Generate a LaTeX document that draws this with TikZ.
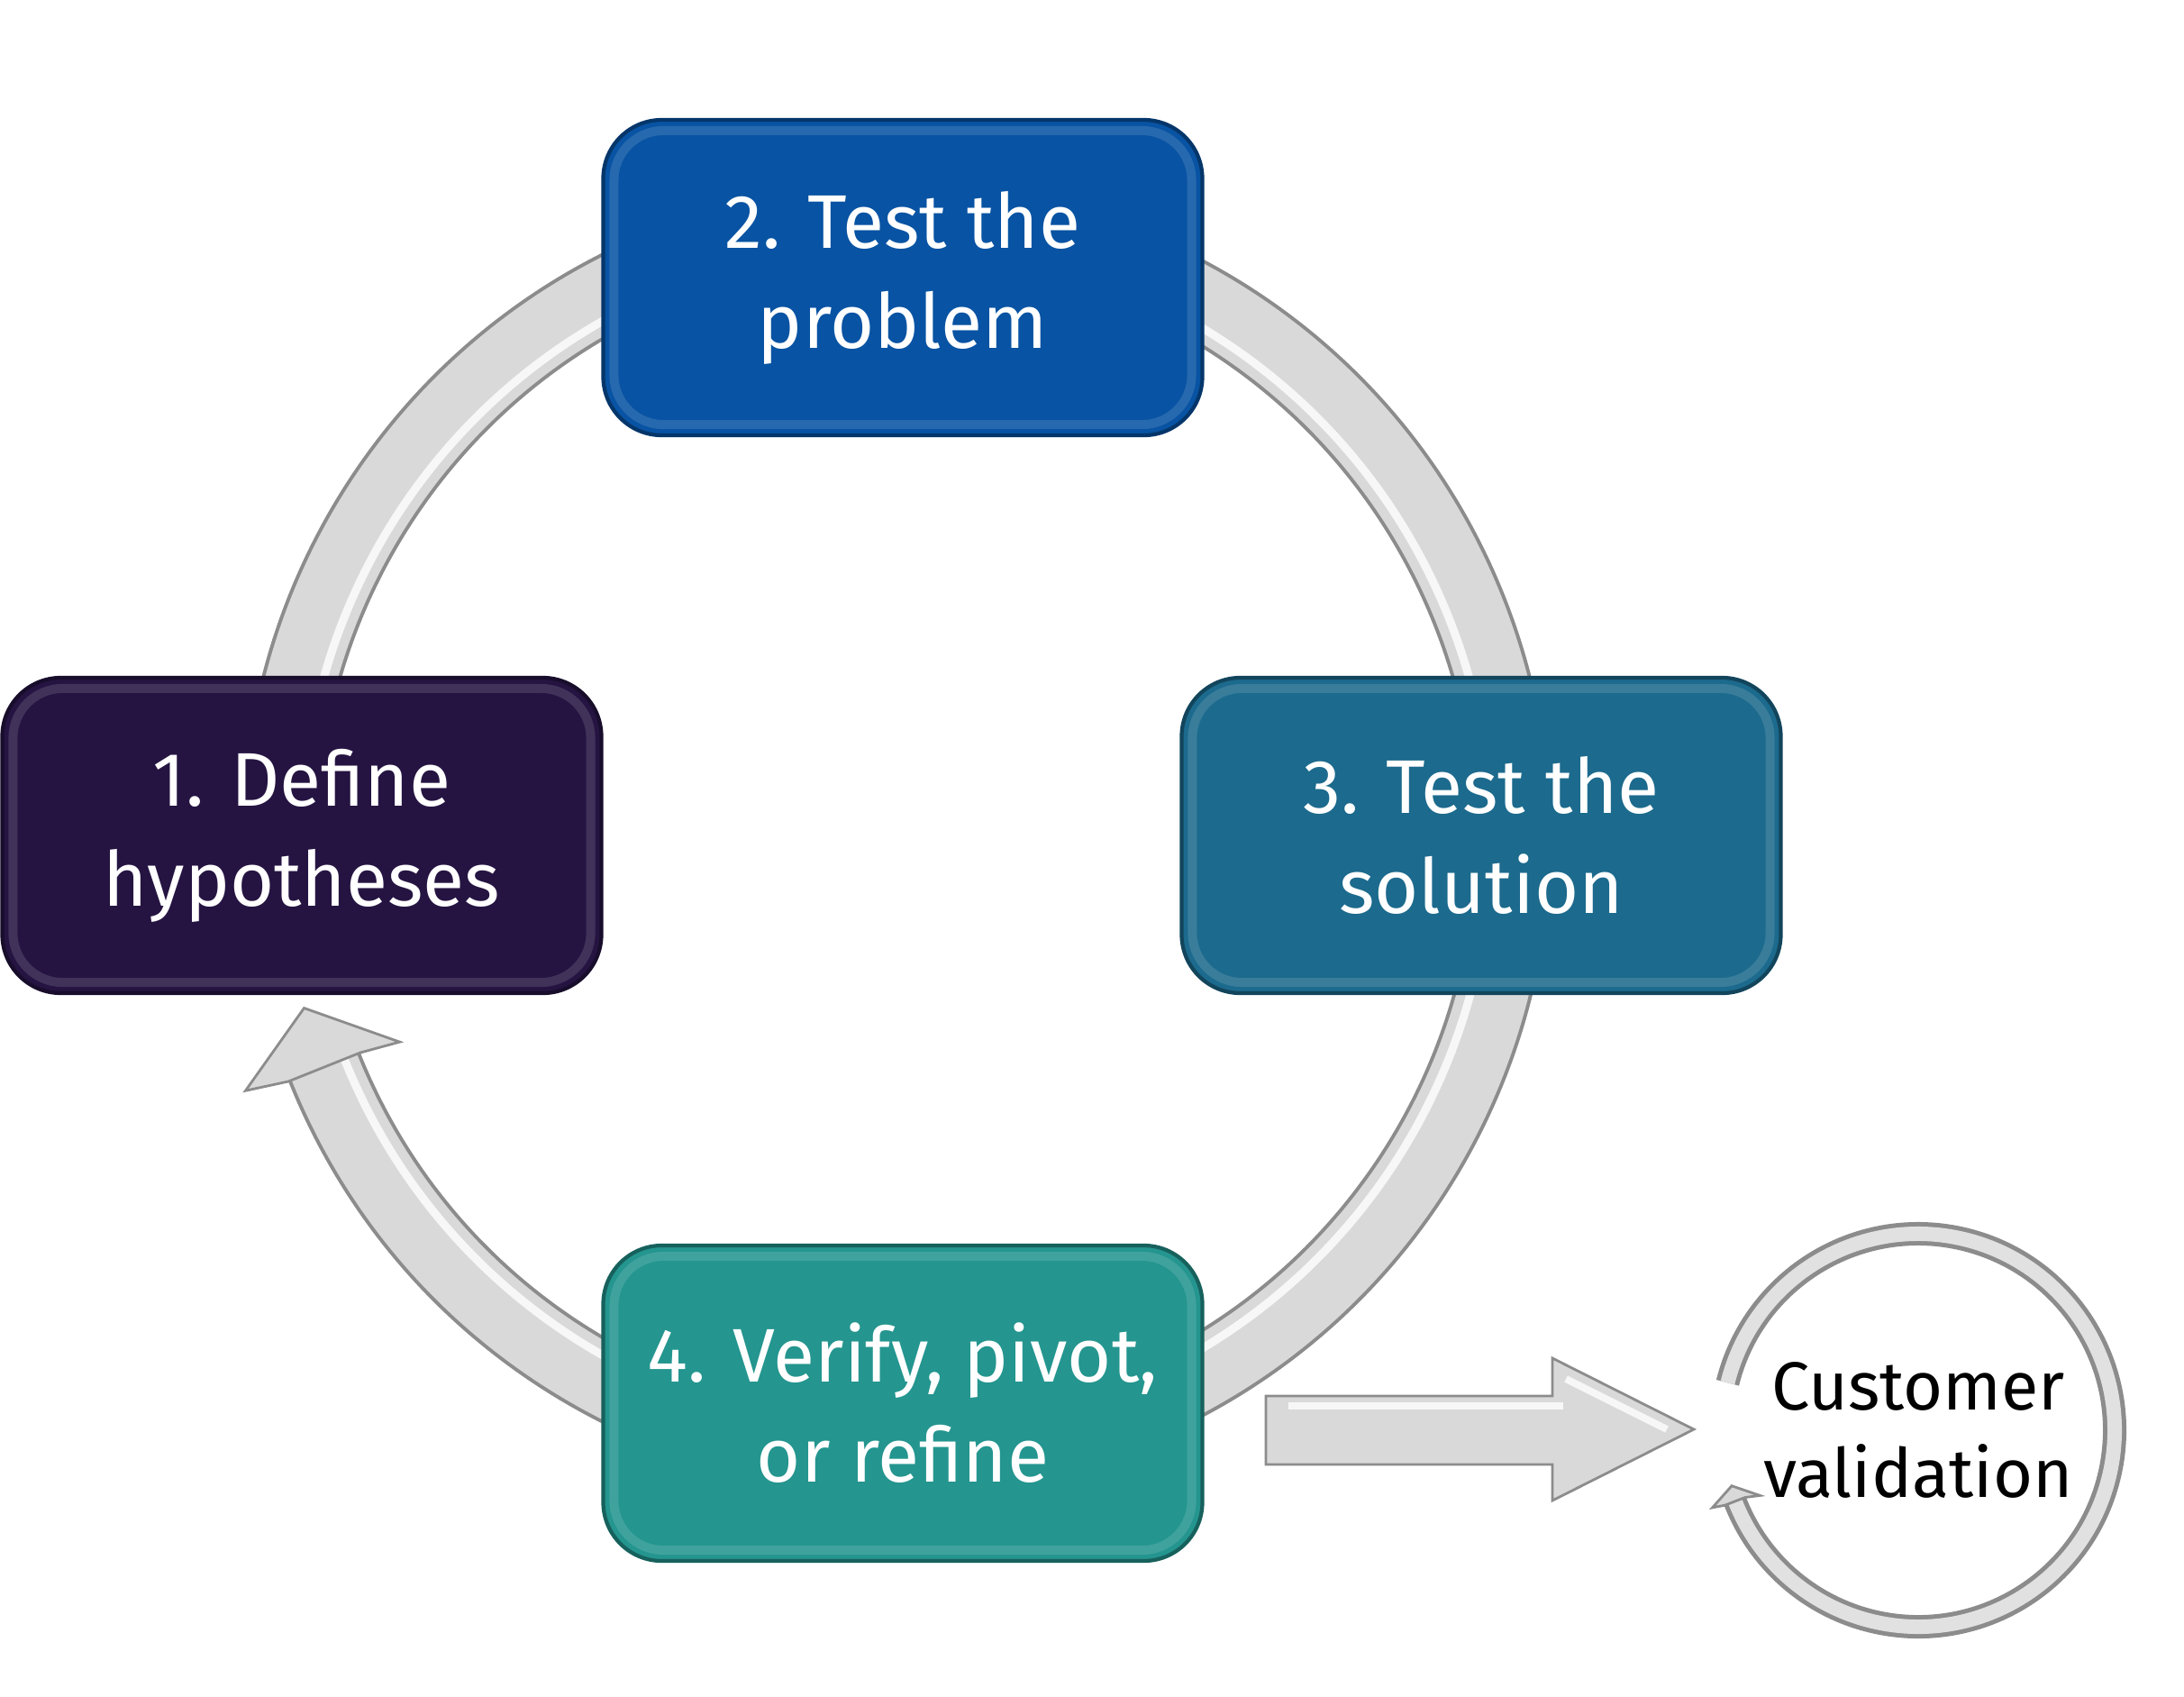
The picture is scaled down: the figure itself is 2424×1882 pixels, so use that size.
\documentclass[tikz,border=0pt]{standalone}
\usepackage{fontspec}
\setmainfont{Fira Sans}
\usetikzlibrary{calc}
\definecolor{cA}{HTML}{251442}
\definecolor{cB}{HTML}{0853A3}
\definecolor{cC}{HTML}{1C6A8D}
\definecolor{cD}{HTML}{24958F}
\definecolor{ringgray}{HTML}{D9D9D9}
\definecolor{edgegray}{HTML}{8C8C8C}
\begin{document}
\begin{tikzpicture}[x=0.1mm,y=0.1mm,
  stepbox/.style={draw=#1!65!black, line width=1.2pt, fill=#1, rounded corners=6.5mm,
    minimum width=66.5mm, minimum height=35mm, align=center, text=white,
    font=\fontsize{24}{31.6}\selectfont, inner sep=0pt},
  rim/.style={white, opacity=0.13, line width=1.0mm, rounded corners=5.5mm},
  ringbody/.style={line width=7.8mm, ringgray},
  ringedge/.style={line width=8.6mm, edgegray},
  headfill/.style={fill=ringgray, draw=edgegray, line width=0.8pt, line join=miter}
]
\useasboundingbox (0,0) rectangle (2424,-1882);
\coordinate (C) at (995,-930);
\coordinate (V) at (2129,-1587);

% big ring
\draw[ringedge] ($(C)+(201.8:684)$) arc[start angle=201.8, end angle=545, radius=684];
\draw[ringbody] ($(C)+(201.8:684)$) arc[start angle=201.8, end angle=545, radius=684];
\draw[white, line width=0.9mm, opacity=0.8] ($(C)+(201.8:660)$) arc[start angle=201.8, end angle=545, radius=660];
% ring arrow head
\path[headfill] ($(C)+(201.2:775)$) -- ($(C)+(196:684)$) -- ($(C)+(202.3:596)$)
  -- ($(C)+(201.8:641)$) -- ($(C)+(201.8:727)$) -- cycle;

% boxes
\node[stepbox=cA] (b1) at (335,-927) {1. Define\\hypotheses};
\node[stepbox=cB] (b2) at (1002,-308) {2. Test the\\problem};
\node[stepbox=cC] (b3) at (1644,-927) {3. Test the\\solution};
\node[stepbox=cD] (b4) at (1002,-1557) {4. Verify, pivot,\\or refine};
\foreach \n in {b1,b2,b3,b4}
  \draw[rim] ($(\n.south west)+(14,14)$) rectangle ($(\n.north east)+(-14,-14)$);

% validation loop
\node[font=\fontsize{21.5}{27.6}\selectfont, align=center, inner sep=0pt] (cv) at (V) {Customer\\validation};
\draw[line width=2.6mm, edgegray] ($(V)+(166:218)$) arc[start angle=166, end angle=-159.2, radius=218];
\draw[line width=1.6mm, ringgray!80!white] ($(V)+(166:218)$) arc[start angle=166, end angle=-159.2, radius=218];
\path[headfill] ($(V)+(200.6:244)$) -- ($(V)+(196.6:216)$) -- ($(V)+(202.4:190)$)
  -- ($(V)+(201.2:206)$) -- ($(V)+(201.2:230)$) -- cycle;

% straight arrow
\coordinate (as) at (1405,-1587);
\coordinate (at) at (1880,-1586);
\path[fill=ringgray, draw=edgegray, line width=0.8pt]
  (1405,-1549) -- (1723,-1549) -- (1723,-1507) -- (at) -- (1723,-1665)
  -- (1723,-1625) -- (1405,-1625) -- cycle;
\draw[white, line width=0.8mm, opacity=0.8] (1430,-1560) -- (1735,-1560);
\draw[white, line width=0.8mm, opacity=0.8] (1738,-1530) -- (1850,-1586);
\end{tikzpicture}
\end{document}
